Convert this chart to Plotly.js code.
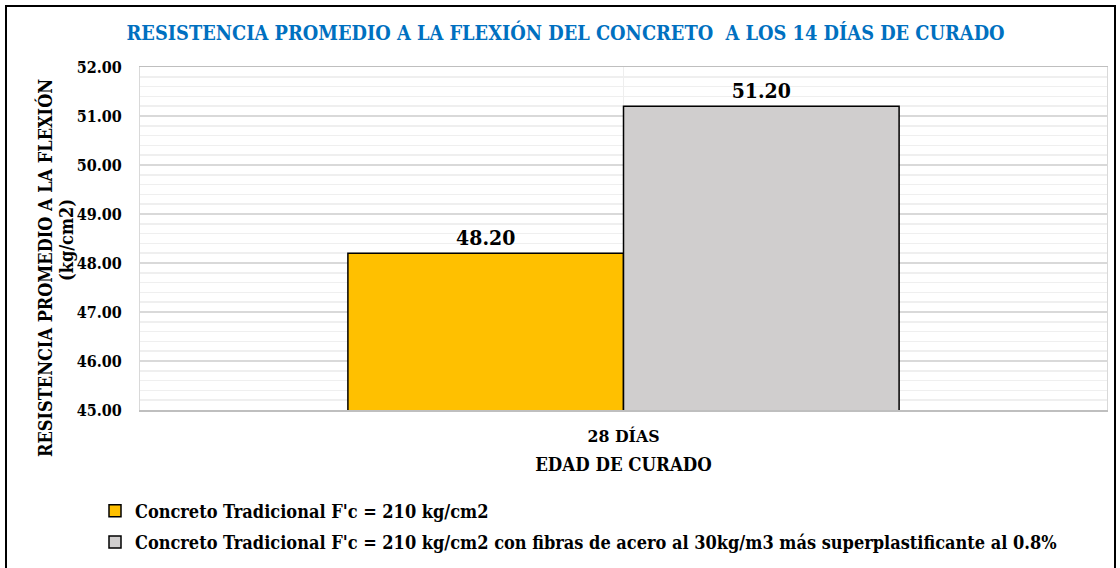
<!DOCTYPE html>
<html>
<head>
<meta charset="utf-8">
<script src="https://cdn.plot.ly/plotly-3.0.1.min.js"></script>
<style>html,body{margin:0;padding:0;background:#fff;}#chart{width:1120px;height:568px;}</style>
</head>
<body>
<div id="chart"></div>
<script>
const categories = ['28 DÍAS'];
const seriesNames = [
  "Concreto Tradicional F'c = 210 kg/cm2",
  "Concreto Tradicional F'c = 210 kg/cm2 con fibras de acero al 30kg/m3 más superplastificante al 0.8%"
];
const traditionalValues = [48.20];
const fiberValues = [51.20];
const seriesColors = ['#FFC000', '#D0CECE'];
const yTitleLines = ['RESISTENCIA PROMEDIO A LA FLEXIÓN', '(kg/cm2)'];

const FONT = 'DejaVu Serif Condensed, DejaVu Serif';
const mk = (name, vals, color, grp) => ({
  type: 'bar', name: '<b>' + name + '</b>', x: categories, y: vals, legendgroup: grp,
  marker: {color: color, line: {color: '#000', width: 1.5}},
  texttemplate: '<b>%{y:.2f}</b>', textposition: 'outside', cliponaxis: false,
  textfont: {family: FONT, size: 21, color: '#000'}, hoverinfo: 'skip'
});
const data = [
  mk(seriesNames[0], traditionalValues, seriesColors[0], 'a'),
  mk(seriesNames[1], fiberValues, seriesColors[1], 'b')
];
const L = 140, R = 13, T = 67, B = 158, W = 1120, H = 568;
const pw = W - L - R, ph = H - T - B;
const px = v => (v - L) / pw;
const py = v => (H - B - v) / ph;
const yTitle = (text, cx, cy) => ({
  text: '<b>' + text + '</b>', xref: 'paper', yref: 'paper', x: px(cx), y: py(cy),
  xanchor: 'center', yanchor: 'middle', textangle: -90, showarrow: false,
  font: {family: FONT, size: 18, color: '#000'}
});
const layout = {
  width: W, height: H,
  margin: {l: L, r: R, t: T, b: B, autoexpand: false},
  paper_bgcolor: '#fff', plot_bgcolor: '#fff',
  font: {family: FONT, color: '#000'},
  title: {text: '<b>RESISTENCIA PROMEDIO A LA FLEXIÓN DEL CONCRETO  A LOS 14 DÍAS DE CURADO</b>',
    font: {family: FONT, size: 19.8, color: '#0070C0'}, x: 0.505, xanchor: 'center', y: 1 - 33/H, yanchor: 'middle'},
  barmode: 'group', bargap: 0.43, bargroupgap: 0,
  xaxis: {type: 'category', showgrid: true, gridcolor: '#eeeeee', showline: true, linecolor: '#bfbfbf', linewidth: 1.5,
    mirror: true, ticks: '', tickfont: {family: FONT, size: 17.5, color: '#000'}, tickprefix: '<b>', ticksuffix: '</b>',
    ticklabelstandoff: 9,
    title: {text: '<b>EDAD DE CURADO</b>', font: {family: FONT, size: 18.5, color: '#000'}, standoff: 13}, automargin: false, fixedrange: true},
  yaxis: {range: [45, 52], dtick: 1, tickformat: '.2f', tickprefix: '<b>', ticksuffix: '</b>',
    tickfont: {family: FONT, size: 16, color: '#000'}, showgrid: true, gridcolor: '#d9d9d9', gridwidth: 1.5,
    minor: {dtick: 0.2, showgrid: true, gridcolor: '#efefef', gridwidth: 1.5},
    showline: true, linecolor: '#d9d9d9', mirror: true, zeroline: false, ticks: '', ticklabelstandoff: 14,
    automargin: false, fixedrange: true},
  annotations: [yTitle(yTitleLines[0], 45, 268), yTitle(yTitleLines[1], 67, 240)],
  showlegend: true,
  legend: {orientation: 'v', x: px(95), xanchor: 'left', y: py(492.5), yanchor: 'top', traceorder: 'grouped', tracegroupgap: 5,
    font: {family: FONT, size: 18, color: '#000'}, bgcolor: 'rgba(0,0,0,0)'},
  shapes: [{type: 'rect', xref: 'paper', yref: 'paper', x0: px(6), x1: px(1115), y0: py(6), y1: py(600),
    line: {color: '#000', width: 2}, fillcolor: 'rgba(0,0,0,0)', layer: 'above'}]
};
Plotly.newPlot('chart', data, layout, {displayModeBar: false, staticPlot: true});
</script>
</body>
</html>
